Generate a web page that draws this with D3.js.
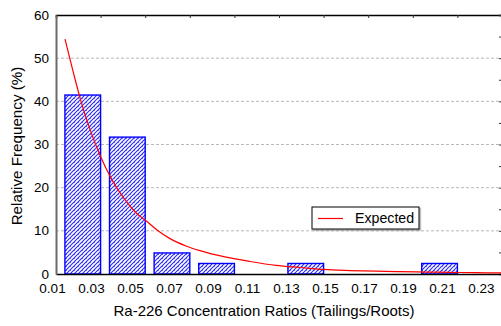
<!DOCTYPE html>
<html>
<head>
<meta charset="utf-8">
<script src="https://cdn.jsdelivr.net/npm/d3@7/dist/d3.min.js"></script>
<style>
  html, body { margin: 0; padding: 0; background: #fff; }
  svg { display: block; font-family: "Liberation Sans", Arial, sans-serif; }
</style>
</head>
<body>
<svg id="chart" width="501" height="326"></svg>
<script>
// Histogram bin edges (concentration ratio) and relative frequency per bin (%)
const binEdges = [0.01205, 0.03492, 0.05779, 0.08067, 0.10354, 0.12641, 0.14928, 0.17215, 0.19503, 0.21790, 0.24077];
const relFreq = [41.46, 31.71, 4.88, 2.44, 0, 2.44, 0, 0, 2.44, 0];

// Expected (fitted) frequency curve
const expectedX = [0.01667, 0.02077, 0.02487, 0.02949, 0.03462, 0.04077, 0.04692, 0.05308, 0.05856, 0.06436, 0.07051, 0.07872, 0.08590, 0.09923, 0.11154, 0.12487, 0.13718, 0.14897, 0.16282, 0.17615, 0.18846, 0.20179, 0.21410, 0.22744, 0.24077];
const expectedY = [54.4, 47.0, 40.0, 33.5, 27.5, 21.8, 17.5, 14.2, 12.2, 10.0, 8.2, 6.5, 5.4, 3.9, 2.9, 2.0, 1.5, 1.05, 0.8, 0.65, 0.55, 0.45, 0.38, 0.3, 0.25];

// Axis tick labels
const xTickLabels = ["0.01", "0.03", "0.05", "0.07", "0.09", "0.11", "0.13", "0.15", "0.17", "0.19", "0.21", "0.23"];
const yTicks = [0, 10, 20, 30, 40, 50, 60];

const svg = d3.select("#chart");
const m = { left: 56, right: 502, top: 15, bottom: 274 };

const x = d3.scaleLinear().domain([binEdges[0], binEdges[binEdges.length - 1]]).range([m.left, m.right]);
const y = d3.scaleLinear().domain([0, 60]).range([m.bottom, m.top]);

// Blue diagonal texture for bars
const defs = svg.append("defs");
const pat = defs.append("pattern")
  .attr("id", "hatch").attr("patternUnits", "userSpaceOnUse")
  .attr("width", 4).attr("height", 4);
pat.append("rect").attr("width", 4).attr("height", 4).attr("fill", "#fff");
pat.append("path").attr("d", "M-1,1 L1,-1 M0,4 L4,0 M3,5 L5,3")
  .attr("stroke", "#2a2aff").attr("stroke-width", 1.1);
pat.append("rect").attr("x", 2).attr("y", 2).attr("width", 1).attr("height", 1).attr("fill", "#6a6aff");

const shadow = defs.append("filter").attr("id", "shadow")
  .attr("x", "-10%").attr("y", "-20%").attr("width", "130%").attr("height", "160%");
shadow.append("feDropShadow").attr("dx", 1.2).attr("dy", 1.2).attr("stdDeviation", 0.4)
  .attr("flood-color", "#777").attr("flood-opacity", 0.8);

// Dashed horizontal grid
svg.append("g").selectAll("line")
  .data(yTicks.filter(d => d > 0 && d < 60))
  .join("line")
  .attr("x1", m.left).attr("x2", m.right)
  .attr("y1", d => y(d)).attr("y2", d => y(d))
  .attr("stroke", "#b8b8b8").attr("stroke-width", 1)
  .attr("stroke-dasharray", "3,2");

// Bars: each occupies the right 80% of its bin
const bins = relFreq.map((v, i) => ({ x0: binEdges[i], x1: binEdges[i + 1], v }));
svg.append("g").selectAll("rect")
  .data(bins)
  .join("rect")
  .attr("x", d => x(d.x0 + 0.2 * (d.x1 - d.x0)))
  .attr("width", d => x(d.x1) - x(d.x0 + 0.2 * (d.x1 - d.x0)))
  .attr("y", d => y(d.v))
  .attr("height", d => y(0) - y(d.v))
  .attr("fill", "url(#hatch)")
  .attr("stroke", "#0000ff").attr("stroke-width", 1.4);

// Frame: top and right secondary axes
const topScale = d3.scaleLinear().domain([0, 10]).range([m.left, m.right]);
svg.append("g").attr("transform", `translate(0,${m.top})`)
  .call(d3.axisBottom(topScale).ticks(10).tickSize(3).tickFormat(""))
  .call(g => g.select(".domain").attr("stroke", "#000").attr("stroke-width", 1.6))
  .call(g => g.selectAll(".tick line").attr("stroke", "#333"));

const rightScale = d3.scaleLinear().domain([0, 12]).range([m.bottom, m.top]);
svg.append("g").attr("transform", `translate(${m.right},0)`)
  .call(d3.axisLeft(rightScale).ticks(12).tickSize(3).tickFormat(""))
  .call(g => g.select(".domain").attr("stroke", "#000").attr("stroke-width", 1.6))
  .call(g => g.selectAll(".tick line").attr("stroke", "#333"));

// Bottom axis
const xTickVals = xTickLabels.map(Number);
svg.append("g").attr("transform", `translate(0,${m.bottom})`)
  .call(d3.axisBottom(x).tickValues(xTickVals).tickSize(0).tickPadding(9.4)
    .tickFormat((d, i) => xTickLabels[i]))
  .call(g => g.select(".domain").attr("stroke", "#000").attr("stroke-width", 1.4))
  .call(g => g.selectAll("text").attr("font-size", 13.5).attr("fill", "#000")
    .attr("font-family", "Liberation Sans, Arial, sans-serif"));

// Left axis
svg.append("g").attr("transform", `translate(${m.left},0)`)
  .call(d3.axisLeft(y).tickValues(yTicks).tickSize(0).tickPadding(7))
  .call(g => g.select(".domain").attr("stroke", "#6a6a6a").attr("stroke-width", 2))
  .call(g => g.selectAll("text").attr("font-size", 13.5).attr("dy", "0.3em").attr("fill", "#000")
    .attr("font-family", "Liberation Sans, Arial, sans-serif"));

// Expected curve
const pts = expectedX.map((v, i) => [v, expectedY[i]]);
svg.append("path")
  .datum(pts)
  .attr("fill", "none")
  .attr("stroke", "#ff0000").attr("stroke-width", 1.2)
  .attr("d", d3.line().x(d => x(d[0])).y(d => y(d[1])).curve(d3.curveMonotoneX));

// Axis titles
svg.append("text")
  .attr("x", 264).attr("y", 316)
  .attr("text-anchor", "middle").attr("font-size", 15)
  .text("Ra-226 Concentration Ratios (Tailings/Roots)");

svg.append("text")
  .attr("transform", `translate(22,146) rotate(-90)`)
  .attr("text-anchor", "middle").attr("font-size", 15.2)
  .text("Relative Frequency (%)");

// Legend
const lg = svg.append("g").attr("transform", "translate(312,207)");
lg.append("rect").attr("width", 107).attr("height", 22)
  .attr("fill", "#fff").attr("stroke", "#000").attr("stroke-width", 1)
  .attr("filter", "url(#shadow)");
lg.append("line").attr("x1", 6).attr("x2", 31).attr("y1", 11.5).attr("y2", 11.5)
  .attr("stroke", "#ff0000").attr("stroke-width", 1.2);
lg.append("text").attr("x", 43).attr("y", 16).attr("font-size", 14.2).text("Expected");
</script>
</body>
</html>
